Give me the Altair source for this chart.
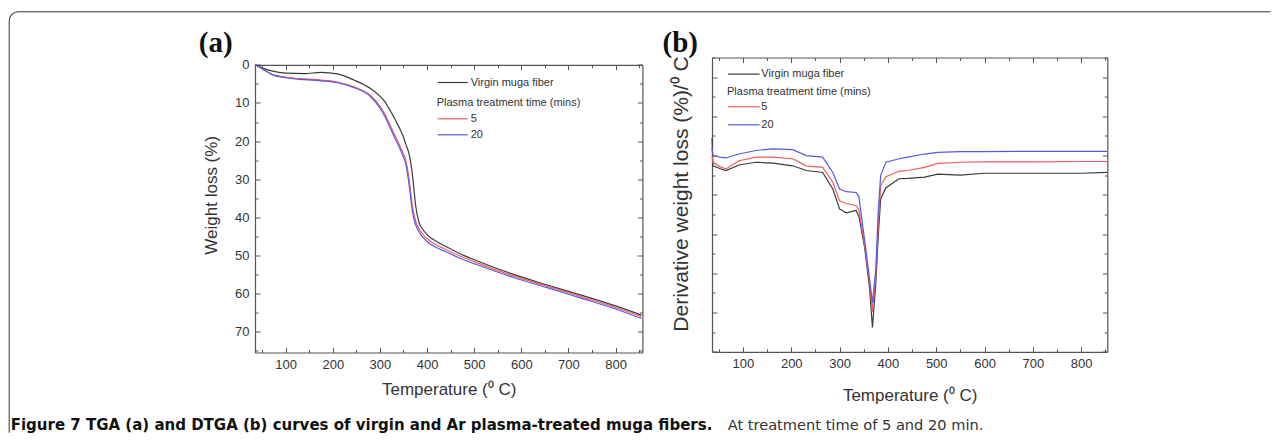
import altair as alt
import pandas as pd

# ---------------- data ----------------
series_names = ["Virgin muga fiber", "5", "20"]
series_colors = ["#3a3a3a", "#ee5c5c", "#5858e6"]

# (a) TGA: weight loss (%) vs temperature
tga_temp = [35, 50, 70, 100, 140, 175, 210, 245, 280, 300, 310, 320, 330, 340, 348,
            355, 362, 369, 376, 383, 392, 400, 420, 440, 470, 515, 585, 655, 725, 795, 855]
tga_virgin = [0, 0.8, 1.6, 2.2, 2.3, 2.0, 2.4, 4.0, 6.2, 8.2, 9.6, 11.6, 13.8, 16.2, 18.3,
              20.8, 23.4, 28.7, 37.0, 41.3, 43.3, 44.5, 46.3, 47.6, 49.5, 51.8, 55.0, 57.7, 60.3, 63.0, 65.6]
tga_5 = [0, 1.0, 2.4, 3.2, 3.7, 4.0, 4.5, 5.8, 8.0, 10.8, 12.8, 15.4, 18.0, 20.6, 22.8,
         25.0, 30.0, 37.0, 41.0, 43.0, 44.6, 45.6, 47.2, 48.4, 50.1, 52.3, 55.4, 58.0, 60.7, 63.4, 66.0]
tga_20 = [0, 1.0, 2.5, 3.4, 3.9, 4.2, 4.7, 6.0, 8.3, 11.3, 13.4, 16.0, 18.8, 21.3, 23.6,
          26.0, 31.5, 38.4, 42.0, 43.8, 45.3, 46.3, 47.9, 49.0, 50.7, 52.8, 55.8, 58.4, 61.1, 63.8, 66.5]

# (b) DTGA: derivative weight loss (unlabelled axis, tick units)
dtg_temp = [36, 38, 52, 65, 92, 127, 162, 203, 231, 265, 286, 300, 314, 334, 340, 352,
            362, 368, 375, 380, 385, 396, 423, 441, 476, 503, 550, 600, 700, 800, 854]
dtg_virgin = [5.45, 4.74, 4.67, 4.62, 4.76, 4.83, 4.81, 4.74, 4.62, 4.57, 4.15, 3.64, 3.54, 3.60, 3.45, 2.65,
              1.63, 0.62, 1.75, 2.95, 3.90, 4.18, 4.41, 4.42, 4.45, 4.53, 4.50, 4.55, 4.55, 4.55, 4.57]
dtg_5 = [5.0, 4.83, 4.72, 4.66, 4.87, 4.96, 4.96, 4.92, 4.74, 4.70, 4.32, 3.85, 3.78, 3.73, 3.62, 2.70,
         1.76, 1.02, 1.94, 3.21, 4.23, 4.46, 4.60, 4.62, 4.70, 4.80, 4.83, 4.84, 4.84, 4.85, 4.85]
dtg_20 = [5.2, 5.0, 4.96, 4.94, 5.04, 5.13, 5.17, 5.15, 5.00, 4.96, 4.57, 4.15, 4.08, 4.06, 3.95, 2.83,
          1.86, 1.25, 2.12, 3.57, 4.49, 4.83, 4.92, 4.96, 5.04, 5.08, 5.10, 5.10, 5.11, 5.11, 5.11]

# tick values
x_major = [100, 200, 300, 400, 500, 600, 700, 800]
x_minor = [50, 150, 250, 350, 450, 550, 650, 750, 850]
tga_y_major = [0, 10, 20, 30, 40, 50, 60, 70]
tga_y_minor = [5, 15, 25, 35, 45, 55, 65, 75]
dtg_y_major = [0, 1, 2, 3, 4, 5, 6, 7]
dtg_y_minor = [0.5, 1.5, 2.5, 3.5, 4.5, 5.5, 6.5, 7.5]

caption_bold = "Figure 7 TGA (a) and DTGA (b) curves of virgin and Ar plasma-treated muga fibers."
caption_rest = "At treatment time of 5 and 20 min."

# ---------------- helpers ----------------
FONT = "Liberation Sans"
TICK_COLOR = "#555555"
TEXT_COLOR = "#333333"
ONE = pd.DataFrame({"a": [0]})


def long_table(temp, series):
    return pd.DataFrame({
        "T": [t for _ in series for t in temp],
        "v": [v for s in series for v in s],
        "s": [n for n, s in zip(series_names, series) for _ in s],
    })


def tick_axis(orient, offset, values, size, domain):
    kw = dict(orient=orient, offset=offset, values=values, labels=False,
              domain=domain, grid=False, title=None, ticks=True,
              tickColor=TICK_COLOR, tickWidth=1, tickSize=size)
    if domain:
        kw.update(domainColor=TICK_COLOR, domainWidth=1.2)
    return alt.Axis(**kw)


def panel(df, w, h, top, xdom, ydom, y_range, y_major, y_minor, y_label_values,
          ytitle, ytitle_x, ytitle_y, ytitle_size, xtitle_y, interp, letter,
          letter_x, letter_y, leg, extra=()):
    xs = alt.Scale(domain=xdom, nice=False, zero=False)
    ys = alt.Scale(domain=ydom, nice=False, zero=False, range=y_range)
    color = alt.Color("s:N", scale=alt.Scale(domain=series_names, range=series_colors),
                      legend=None, sort=series_names)
    base = alt.Chart(df)

    yaxis_kw = dict(ticks=False, domain=False, grid=False, title=ytitle,
                    titleFont=FONT, titleFontSize=ytitle_size, titleFontWeight="normal",
                    titleColor=TEXT_COLOR, titleX=ytitle_x, titleY=ytitle_y,
                    titleAngle=270, titleAlign="center", titleBaseline="middle")
    if y_label_values is None:
        yaxis_kw["labels"] = False
    else:
        yaxis_kw.update(values=y_label_values, labelFont=FONT, labelFontSize=13,
                        labelColor=TEXT_COLOR, labelPadding=6)

    lines = base.mark_line(strokeWidth=1.2, interpolate=interp).encode(
        x=alt.X("T:Q", scale=xs,
                axis=alt.Axis(values=x_major, ticks=False, domain=False, grid=False,
                              labelFont=FONT, labelFontSize=13, labelColor=TEXT_COLOR,
                              labelPadding=6, title="Temperature (⁰ C)", titleFont=FONT,
                              titleFontSize=17, titleFontWeight="normal",
                              titleColor=TEXT_COLOR, titleY=xtitle_y,
                              titleBaseline="alphabetic")),
        y=alt.Y("v:Q", scale=ys, axis=alt.Axis(**yaxis_kw)),
        color=color,
    )

    def ticks_layer(x_orient, x_off, y_orient, y_off, xv, yv, size, domain):
        return base.mark_line(strokeOpacity=0).encode(
            x=alt.X("T:Q", scale=xs, axis=tick_axis(x_orient, x_off, xv, size, domain)),
            y=alt.Y("v:Q", scale=ys, axis=tick_axis(y_orient, y_off, yv, size, domain)),
            detail="s:N",
        )

    # bottom edge ticks point up (top-oriented axis moved down), left edge ticks point right
    t1 = ticks_layer("top", -h, "right", -w, x_major, y_major, 5, True)
    t2 = ticks_layer("top", -h, "right", -w, x_minor, y_minor, 3, False)
    # top edge ticks point down, right edge ticks point left
    t3 = ticks_layer("bottom", -(h - top), "left", -w, x_major, y_major, 5, True)
    t4 = ticks_layer("bottom", -(h - top), "left", -w, x_minor, y_minor, 3, False)

    letter_mark = alt.Chart(ONE).mark_text(
        text=letter, font="Liberation Serif", fontSize=29, fontWeight="bold",
        align="center", baseline="alphabetic", color="#111111"
    ).encode(x=alt.value(letter_x), y=alt.value(letter_y))

    lx0, lx1, ltx, yv, yp, y5, y20 = leg
    legend_layers = []
    for name, col, yy in zip(series_names, series_colors, [yv, y5, y20]):
        legend_layers.append(alt.Chart(ONE).mark_rule(strokeWidth=1.2, color=col).encode(
            x=alt.value(lx0), x2=alt.value(lx1), y=alt.value(yy)))
        legend_layers.append(alt.Chart(ONE).mark_text(
            text=name, font=FONT, fontSize=11, align="left", baseline="middle",
            color=TEXT_COLOR).encode(x=alt.value(ltx), y=alt.value(yy)))
    legend_layers.append(alt.Chart(ONE).mark_text(
        text="Plasma treatment time (mins)", font=FONT, fontSize=11, align="left",
        baseline="middle", color=TEXT_COLOR).encode(x=alt.value(lx0 - 1), y=alt.value(yp)))

    return alt.layer(lines, t1, t2, t3, t4, letter_mark, *legend_layers, *extra).resolve_axis(
        x="independent", y="independent"
    ).properties(width=w, height=h, view=alt.ViewBackground(stroke=None))


tga_df = long_table(tga_temp, [tga_virgin, tga_5, tga_20])
dtg_df = long_table(dtg_temp, [dtg_virgin, dtg_5, dtg_20])

# both panels share the row top (page y 56.7); panel (a) frame starts 7.3 px lower
LW, LH, LTOP = 387.4, 295.0, 7.3
RW, RH = 395.3, 294.3

# page-level decorations placed relative to panel (a) origin (page 254.3, 56.7)
OX, OY = 254.3, 56.7
R = 9
cap_bold = alt.Chart(ONE).mark_text(
    text=caption_bold, font="DejaVu Sans", fontSize=15.0, fontWeight="bold", align="left",
    baseline="alphabetic", color="#111111").encode(x=alt.value(10 - OX), y=alt.value(429 - OY))
cap_rest = alt.Chart(ONE).mark_text(
    text=caption_rest, font="DejaVu Sans", fontSize=14.6, align="left",
    baseline="alphabetic", color="#333333").encode(x=alt.value(727 - OX), y=alt.value(429 - OY))
frame_top = alt.Chart(ONE).mark_rule(color="#333333", strokeWidth=1).encode(
    x=alt.value(8.5 + R - OX), x2=alt.value(1270 - OX), y=alt.value(11 - OY))
frame_left = alt.Chart(ONE).mark_rule(color="#333333", strokeWidth=1).encode(
    x=alt.value(8.5 - OX), y=alt.value(11 + R - OY), y2=alt.value(432 - OY))
frame_corner = alt.Chart(ONE).mark_arc(
    radius=R + 0.5, radius2=R - 0.5, theta=4.7124, theta2=6.2832, color="#333333"
).encode(x=alt.value(8.5 + R - OX), y=alt.value(11 + R - OY))

left = panel(tga_df, LW, LH, LTOP, [35, 857], [0, 75.4], [LTOP, LH], tga_y_major, tga_y_minor,
             tga_y_major, "Weight loss (%)", -44, 137.3, 17,
             42.3, "monotone", "(a)", -39.3, -5.7,
             (182.7, 212.7, 215.7, 25.0, 45.0, 61.3, 77.3),
             extra=(frame_top, frame_left, frame_corner, cap_bold, cap_rest))
right = panel(dtg_df, RW, RH, 0, [36, 854], [0, 7.5], [RH, 0], dtg_y_major, dtg_y_minor,
              None, "Derivative weight loss (%)/⁰ C", -30.7, 136, 21,
              49, "linear", "(b)", -31.7, -5.7,
              (16, 47.6, 49.3, 16.6, 34, 49.3, 67.3))

chart = alt.hconcat(left, right, spacing=69, bounds="flush").properties(
    padding={"left": 0, "top": 2.5, "right": 0, "bottom": 0}
).configure_view(stroke=None)

chart.save("out.html", embed_options={"renderer": "svg", "actions": False})
